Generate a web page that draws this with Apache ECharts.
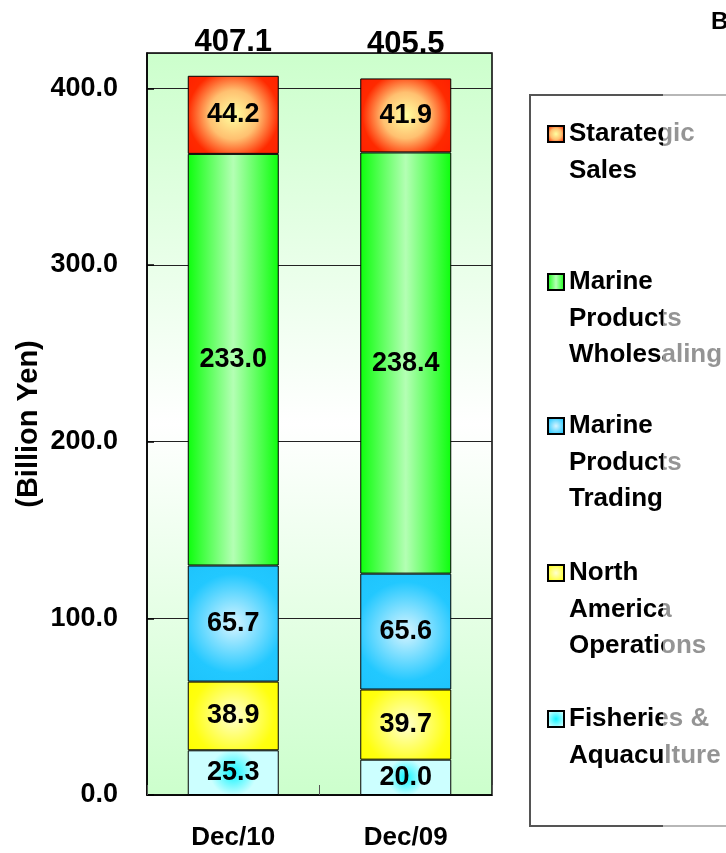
<!DOCTYPE html>
<html>
<head>
<meta charset="utf-8">
<script src="https://cdn.jsdelivr.net/npm/echarts@6/dist/echarts.min.js"></script>
<style>
html,body{margin:0;padding:0;background:#fff;}
#chart{width:726px;height:853px;}
</style>
</head>
<body>
<div id="chart"></div>
<script>
const categories = ['Dec/10', 'Dec/09'];
const seriesNames = ['Fisheries & Aquaculture', 'North America Operations', 'Marine Products Trading', 'Marine Products Wholesaling', 'Starategic Sales'];
const legendLabels = ['Fisheries &\nAquaculture', 'North\nAmerica\nOperations', 'Marine\nProducts\nTrading', 'Marine\nProducts\nWholesaling', 'Starategic\nSales'];
const fisheries = [25.3, 20.0];
const northAmerica = [38.9, 39.7];
const marineTrading = [65.7, 65.6];
const marineWholesaling = [233.0, 238.4];
const strategicSales = [44.2, 41.9];
const totals = [407.1, 405.5];
const yMin = 0, yMax = 420, yStep = 100;

const FONT = "'Liberation Sans', Arial, Helvetica, sans-serif";
const G = echarts.graphic;
const fills = [
  new G.RadialGradient(0.5, 0.5, 0.95, [{offset:0,color:'#10f4ff'},{offset:0.55,color:'#ccffff'},{offset:1,color:'#ccffff'}]),
  new G.RadialGradient(0.5, 0.5, 0.8, [{offset:0,color:'#ffffd0'},{offset:0.75,color:'#ffff10'},{offset:1,color:'#ffff00'}]),
  new G.RadialGradient(0.5, 0.5, 0.78, [{offset:0,color:'#d6f4ff'},{offset:0.7,color:'#22c8ff'},{offset:1,color:'#1ec4fc'}]),
  new G.LinearGradient(0, 0, 1, 0, [{offset:0,color:'#0cff0c'},{offset:0.5,color:'#b4ffb4'},{offset:1,color:'#0cff0c'}]),
  new G.RadialGradient(0.5, 0.5, 0.78, [{offset:0,color:'#ffffa0'},{offset:0.4,color:'#ffc070'},{offset:0.75,color:'#ff2a00'},{offset:1,color:'#ff2000'}])
];
const seriesData = [fisheries, northAmerica, marineTrading, marineWholesaling, strategicSales];

const chart = echarts.init(document.getElementById('chart'));

const series = seriesData.map((d, i) => ({
  name: seriesNames[i],
  type: 'bar',
  stack: 'total',
  barWidth: 91,
  data: d,
  itemStyle: { color: fills[i], borderColor: '#000', borderWidth: 1 },
  label: { show: true, position: 'inside', formatter: p => p.value.toFixed(1),
           fontFamily: FONT, fontSize: 27, fontWeight: 'bold', color: '#000' }
}));
series.push({
  name: 'Total',
  type: 'bar',
  stack: 'total',
  barWidth: 91,
  silent: true,
  data: totals.map(() => 0),
  itemStyle: { color: 'rgba(0,0,0,0)', borderWidth: 0 },
  label: { show: true, position: 'top', distance: 18, formatter: p => totals[p.dataIndex].toFixed(1),
           fontFamily: FONT, fontSize: 31, fontWeight: 'bold', color: '#000' }
});

// legend: one component per item; blank lines before the text keep the icon on the first line
const L = 36.5;
const legendCenters = [719, 573, 426, 282, 134];
const legends = seriesNames.map((nm, i) => {
  const lines = legendLabels[i].split('\n');
  const n = lines.length;
  const txt = new Array(n - 1).fill('\u00a0').concat(lines).join('\n');
  return {
    data: [{ name: nm, icon: 'rect' }],
    orient: 'vertical',
    left: 547,
    top: legendCenters[i] - (2 * n - 1) * L / 2,
    padding: 0,
    itemWidth: 16,
    itemHeight: 16,
    selectedMode: false,
    formatter: () => txt,
    textStyle: { fontFamily: FONT, fontSize: 26, fontWeight: 'bold', color: '#000', lineHeight: L }
  };
});

const option = {
  backgroundColor: '#fff',
  animation: false,
  textStyle: { fontFamily: FONT },
  grid: {
    left: 147, right: 234, top: 53, bottom: 58, show: true,
    backgroundColor: new G.LinearGradient(0, 0, 0, 1, [
      {offset:0,color:'#ccffcc'},{offset:0.5,color:'#ffffff'},{offset:1,color:'#ccffcc'}]),
    borderColor: '#000', borderWidth: 1.5
  },
  xAxis: {
    type: 'category', data: categories,
    axisLine: { lineStyle: { color: '#000', width: 1.5 } },
    axisTick: { show: true, inside: true, length: 10, lineStyle: { color: '#555' } },
    axisLabel: { fontFamily: FONT, fontSize: 26, fontWeight: 'bold', color: '#000', margin: 30 }
  },
  yAxis: {
    type: 'value', min: yMin, max: yMax, interval: yStep,
    name: '(Billion Yen)', nameLocation: 'middle', nameRotate: 90, nameGap: 104,
    nameTextStyle: { fontFamily: FONT, fontSize: 29, fontWeight: 'bold', color: '#000' },
    axisLine: { show: true, lineStyle: { color: '#000', width: 1.5 } },
    axisTick: { show: true, inside: true, length: 7, lineStyle: { color: '#000', width: 1.5 } },
    axisLabel: { showMaxLabel: false, formatter: v => (v > 400 ? '' : v.toFixed(1)),
                 fontFamily: FONT, fontSize: 27, fontWeight: 'bold', color: '#000', margin: 29 },
    splitLine: { lineStyle: { color: '#222', width: 1.2 } }
  },
  legend: legends,
  graphic: [
    { type: 'rect', z: 1, shape: { x: 530, y: 95, width: 260, height: 731 },
      style: { fill: '#fff', stroke: '#555', lineWidth: 2 } },
    { type: 'rect', z: 100, shape: { x: 663, y: 0, width: 70, height: 853 },
      style: { fill: 'rgba(255,255,255,0.58)' } },
    { type: 'text', z: 101, x: 711, y: 22,
      style: { text: 'B', font: 'bold 24px ' + FONT, fill: '#000', textVerticalAlign: 'middle' } }
  ],
  series: series
};
chart.setOption(option);
</script>
</body>
</html>
